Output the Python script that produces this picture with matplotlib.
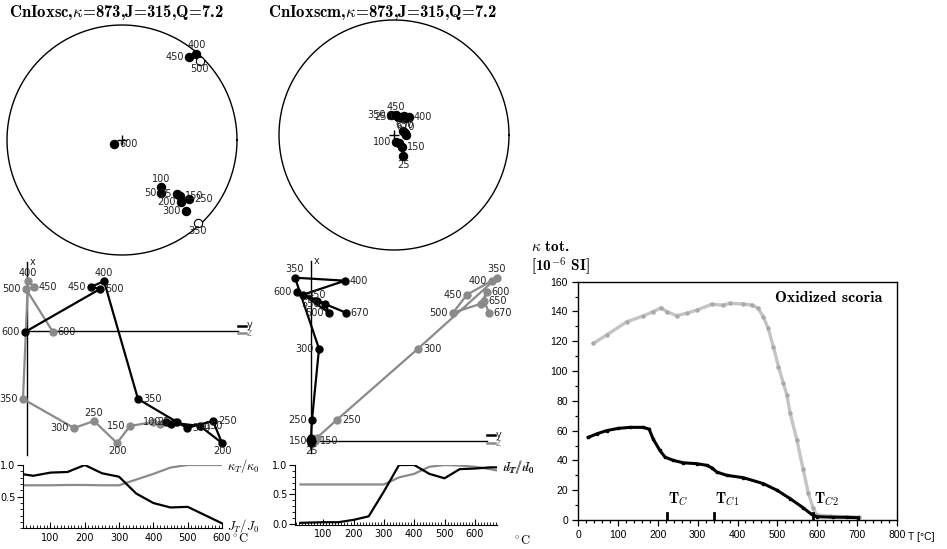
import numpy as np
import matplotlib.pyplot as plt
from matplotlib.ticker import MultipleLocator

plt.rcParams['mathtext.fontset'] = 'cm'
plt.rcParams['font.family'] = 'DejaVu Sans'

W, H = 947, 549

# stereonet data (declination, inclination); negative inc = upper hemisphere
st1_T = [25, 50, 100, 150, 200, 250, 300, 350, 400, 450, 500, 600]
st1_dec = [134.5, 143.7, 140.3, 134, 136.4, 131.4, 138, 137.5, 40.8, 38.9, 44.6, 243]
st1_inc = [33.4, 42.2, 45.8, 30.6, 26.6, 23.4, 18, -2.4, 1, 8, -4, 83.7]

st2_T = [25, 100, 150, 200, 250, 300, 350, 400, 450, 500, 550, 600, 650, 670]
st2_dec = [156.8, 164, 146.3, 148, 12.5, 66, 351.5, 39.8, 5.7, 21.3, 35.2, 27.8, 79.7, 90]
st2_inc = [73.8, 84.8, 79.8, 83.4, 77, 83, 75.8, 73.4, 75.9, 76.4, 75.3, 74.8, 82.2, 81.6]

# Zijderveld components (arbitrary units)
zj1_T = [25, 50, 100, 150, 200, 250, 300, 350, 400, 450, 500, 600]
zj1_N = [-91, -93, -91, -95, -112, -90, -97, -68, 50, 44, 42, -1]
zj1_E = [150, 144, 139, 173, 195, 186, 160, 111, 77, 64, 73, -2]
zj1_Z = [148, 133, 126, 103, 90, 67, 47, -4, 1, 7, -1, 26]

zj2_T = [25, 100, 150, 200, 250, 300, 350, 400, 450, 500, 550, 600, 650, 670]
zj2_N = [-2, 1, 0, 3, 21, 92, 163, 160, 146, 128, 137, 149, 140, 128]
zj2_E = [0, -1, 1, 0, 1, 8, -16, 34, -8, 18, 14, -14, 6, 35]
zj2_Z = [2, 3, 4, 6, 26, 107, 186, 181, 156, 142, 170, 176, 173, 178]

# normalised intensity / susceptibility
lo1_T = [25, 50, 100, 150, 200, 250, 300, 350, 400, 450, 500, 600]
lo1_J = [0.85, 0.83, 0.88, 0.89, 1.0, 0.87, 0.815, 0.55, 0.40, 0.33, 0.34, 0.08]
lo1_k = [0.68, 0.68, 0.68, 0.685, 0.685, 0.68, 0.68, 0.77, 0.86, 0.96, 1.0, 1.0]

lo2_T = [25, 100, 150, 200, 250, 300, 350, 400, 450, 500, 550, 600, 650, 670]
lo2_J = [0.02, 0.03, 0.03, 0.07, 0.13, 0.55, 1.0, 1.0, 0.85, 0.775, 0.93, 0.94, 0.96, 0.96]
lo2_k = [0.67, 0.67, 0.67, 0.67, 0.67, 0.67, 0.79, 0.85, 0.97, 1.0, 0.99, 0.97, 0.93, 0.91]

# bulk susceptibility vs temperature
kt_T_black = [25, 46, 71, 100, 130, 163, 178, 188, 205, 218, 239, 264, 298, 323, 335, 348,
              373, 415, 465, 499, 532, 565, 586, 599, 640, 674, 704]
kt_black = [55.5, 57.8, 60, 61.5, 62.2, 62.2, 61, 54.4, 46.7, 42.2, 40, 38.4, 37.8, 36.7, 35.1,
            32.2, 30, 28.4, 24.4, 20, 14.4, 8.2, 3.8, 2.2, 1.9, 1.8, 1.5]
kt_T_gray = [38, 71, 122, 163, 188, 208, 222, 247, 272, 298, 335, 364, 381, 415, 436, 452, 465,
             477, 490, 503, 515, 524, 532, 549, 565, 578, 590, 599, 632, 706]
kt_gray = [118.6, 124.2, 133.1, 137, 139.9, 142.5, 139.9, 137.2, 138.8, 141, 144.8, 144.3, 145.5,
           145, 144.3, 142.1, 136.4, 128.7, 116.4, 103, 92, 84, 72, 54, 34, 18, 8, 3.4, 2.5, 2]
tc_T = [222, 341, 589]
tc_names = [r'$\mathbf{T}_C$', r'$\mathbf{T}_{C1}$', r'$\mathbf{T}_{C2}$']

GRAY = '#8a8a8a'
BOLD = 'cmb10'

fig = plt.figure(figsize=(W / 100, H / 100), dpi=100)


def px_axes(x0, y0, x1, y1):
    return fig.add_axes([x0 / W, 1 - y1 / H, (x1 - x0) / W, (y1 - y0) / H])


def ftext(x, y, s, **kw):
    fig.text(x / W, 1 - y / H, s, **kw)


OFF = {'r': (3.5, 0, 'left', 'center'), 'l': (-3.5, 0, 'right', 'center'),
       't': (0, 2.5, 'center', 'bottom'), 'b': (0, -2.5, 'center', 'top')}


def label(ax, x, y, txt, where):
    dx, dy, ha, va = OFF[where]
    ax.annotate(txt, (x, y), xytext=(dx, dy), textcoords='offset points',
                ha=ha, va=va, fontsize=7, color='#222222')


def equal_area(dec, inc):
    d = np.radians(dec)
    r = np.sqrt(2) * np.sin(np.radians(90 - np.abs(inc)) / 2)
    return r * np.sin(d), r * np.cos(d)


def stereonet(box, T, dec, inc, pos):
    ax = px_axes(*box)
    ax.set_xlim(-1, 1)
    ax.set_ylim(-1, 1)
    ax.axis('off')
    th = np.linspace(0, 2 * np.pi, 400)
    ax.plot(np.cos(th), np.sin(th), color='black', lw=1, clip_on=False)
    ax.plot(0, 0, marker='+', color='black', ms=7, mew=1)
    x, y = equal_area(np.array(dec), np.array(inc))
    for t, xi, yi, ii in zip(T, x, y, inc):
        face = 'black' if ii >= 0 else 'white'
        ax.plot(xi, yi, 'o', ms=6, mfc=face, mec='black', mew=0.8, clip_on=False)
        if t in pos:
            label(ax, xi, yi, str(t), pos[t])
    return ax


stereonet((7, 25, 237, 255), st1_T, st1_dec, st1_inc,
          {25: 'l', 50: 'l', 100: 't', 150: 'r', 200: 'l', 250: 'r', 300: 'l',
           350: 'b', 400: 't', 450: 'l', 500: 'b', 600: 'r'})
stereonet((279, 20, 509, 250), st2_T, st2_dec, st2_inc,
          {25: 'b', 100: 'l', 150: 'r', 250: 'l', 350: 'l', 400: 'r', 450: 't',
           650: 't', 670: 't'})

ftext(9, 12, r'CnIoxsc,$\kappa$=873,J=315,Q=7.2', family=BOLD, fontsize=12, va='center')
ftext(268, 12, r'CnIoxscm,$\kappa$=873,J=315,Q=7.2', family=BOLD, fontsize=12, va='center')


def zijderveld(box, xlim, ylim, vline, hline, T, N, E, Z, pos_e, pos_z):
    ax = px_axes(*box)
    ax.set_xlim(*xlim)
    ax.set_ylim(*ylim)
    ax.axis('off')
    ax.plot([0, 0], vline, color='black', lw=1)
    ax.plot(hline, [0, 0], color='black', lw=1)
    ax.text(3, vline[1], 'x', fontsize=7, va='center', color='#222222')
    xe = hline[1]
    ax.plot([xe, xe + 8], [5.5, 5.5], color='black', lw=1.8)
    ax.plot([xe, xe + 8], [-2, -2], color=GRAY, lw=1.8)
    ax.text(xe + 9, 5.5, 'y', fontsize=7, va='center', color='#222222')
    ax.text(xe + 9, -2.5, 'z', fontsize=7, va='center', color=GRAY)
    ax.plot(Z, N, '-o', color=GRAY, lw=1.6, ms=5)
    ax.plot(E, N, '-o', color='black', lw=1.6, ms=5)
    for t, n, e, z in zip(T, N, E, Z):
        if t in pos_z:
            label(ax, z, n, str(t), pos_z[t])
        if t in pos_e:
            label(ax, e, n, str(t), pos_e[t])
    return ax


zijderveld((0, 255, 250, 458), (-27, 223), (-127, 76), [-124, 69], [-2, 211],
           zj1_T, zj1_N, zj1_E, zj1_Z,
           {100: 'l', 150: 'r', 200: 'b', 250: 'r', 300: 'r', 350: 'r', 400: 't',
            450: 'l', 500: 'r', 600: 'l'},
           {25: 'l', 150: 'l', 200: 'b', 250: 't', 300: 'l', 350: 'l', 400: 't',
            450: 'r', 500: 'l', 600: 'r'})
zijderveld((255, 255, 505, 458), (-56, 194), (-17.3, 185.7), [-12, 180], [0, 176],
           zj2_T, zj2_N, zj2_E, zj2_Z,
           {25: 'b', 150: 'l', 250: 'l', 300: 'l', 350: 't', 400: 'r', 450: 'r',
            500: 'l', 550: 'l', 600: 'l', 670: 'r'},
           {150: 'r', 250: 'r', 300: 'r', 350: 't', 400: 'l', 450: 'l', 500: 'l',
            600: 'r', 650: 'r', 670: 'r'})


def lower(box, xlim, ylim, yticks, T, J, k):
    ax = px_axes(*box)
    ax.plot(T, k, color=GRAY, lw=1.6)
    ax.plot(T, J, color='black', lw=1.6)
    ax.set_xlim(*xlim)
    ax.set_ylim(*ylim)
    ax.spines[['top', 'right']].set_visible(False)
    ax.set_xticks([100, 200, 300, 400, 500, 600])
    ax.xaxis.set_minor_locator(MultipleLocator(10))
    ax.set_yticks(yticks)
    ax.set_yticklabels([f'{v:.1f}' for v in yticks])
    ax.yaxis.set_minor_locator(MultipleLocator(0.1))
    ax.tick_params(axis='x', which='both', direction='in', labelsize=7, pad=3)
    ax.tick_params(axis='x', which='major', length=4)
    ax.tick_params(axis='x', which='minor', length=2)
    ax.tick_params(axis='y', which='major', length=4, labelsize=7, pad=1.5)
    ax.tick_params(axis='y', which='minor', length=2)
    return ax


lower((23, 465, 222, 528.4), (20, 600), (0, 1.0), [0.5, 1.0], lo1_T, lo1_J, lo1_k)
lower((295, 465, 497, 525), (7, 673), (-0.017, 1.0), [0.0, 0.5, 1.0], lo2_T, lo2_J, lo2_k)
ftext(227, 466, r'$\kappa_T/\kappa_0$', fontsize=9, va='center')
ftext(227, 526, r'$J_T/J_0$', fontsize=9, va='center')
ftext(230, 538, r'$^\circ\mathrm{C}$', fontsize=9, va='center')
ftext(502, 467, r'$\kappa_T/\kappa_0$', fontsize=9, va='center')
ftext(502, 467, r'$J_T/J_0$', fontsize=9, va='center')
ftext(512, 540, r'$^\circ\mathrm{C}$', fontsize=9, va='center')

# bulk susceptibility panel
ax = px_axes(578.3, 281.7, 896.7, 520)
ax.plot(kt_T_gray, kt_gray, '-o', color='#c4c4c4', lw=2.4, ms=2.2, mfc='#a9a9a9', mec='#a9a9a9')
ax.plot(kt_T_black, kt_black, '-s', color='black', lw=2.2, ms=2)
ax.set_xlim(0, 800)
ax.set_ylim(0, 160)
ax.set_xticks(range(0, 801, 100))
ax.set_yticks(range(0, 161, 20))
ax.xaxis.set_minor_locator(MultipleLocator(20))
ax.yaxis.set_minor_locator(MultipleLocator(10))
ax.tick_params(which='both', direction='out', labelsize=7.5, width=0.9)
ax.tick_params(which='major', length=4)
ax.tick_params(which='minor', length=2)
for lab in ax.get_xticklabels() + ax.get_yticklabels():
    lab.set_fontfamily('Liberation Sans')
for sp in ax.spines.values():
    sp.set_linewidth(1)
for t, name in zip(tc_T, tc_names):
    ax.plot([t, t], [0, 4.5], color='black', lw=2)
    ax.text(t + 3, 8, name, fontsize=10.5, ha='left', va='bottom')
ax.text(0.955, 0.93, 'Oxidized scoria', family=BOLD, transform=ax.transAxes,
        fontsize=11.5, ha='right', va='center')
ftext(531, 247, r'$\kappa$ tot.', family=BOLD, fontsize=11, va='center')
ftext(531, 266, r'[10$^{-6}$ SI]', family=BOLD, fontsize=11, va='center')
ftext(908, 537, 'T [°C]', fontsize=7.5, va='center', family='Liberation Sans')

fig.savefig('out.png', dpi=100)
